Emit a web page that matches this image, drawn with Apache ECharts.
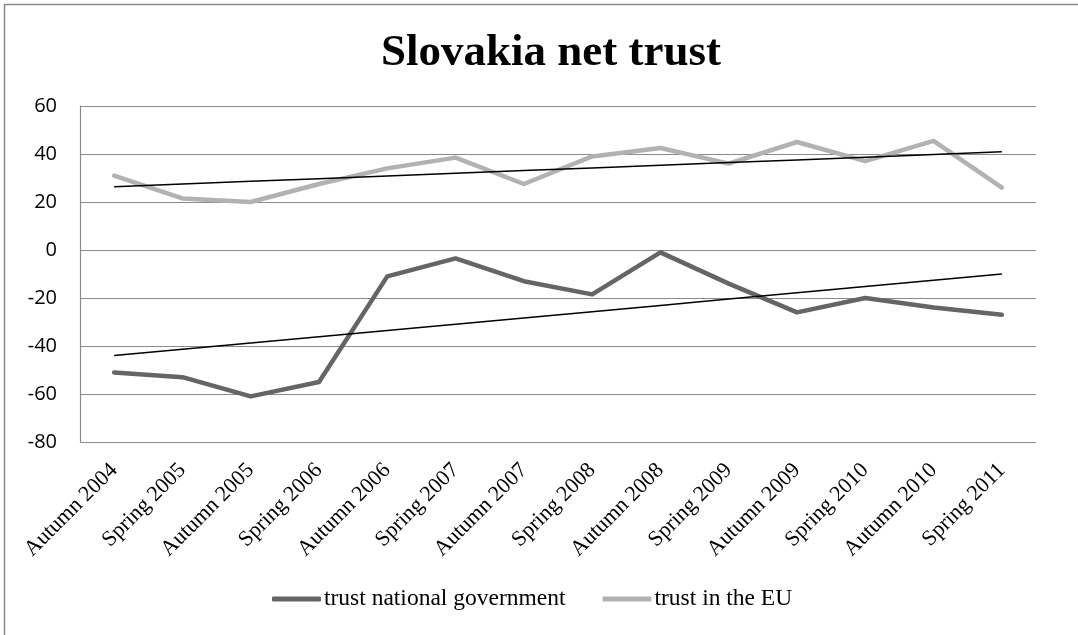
<!DOCTYPE html>
<html>
<head>
<meta charset="utf-8">
<script src="https://cdn.jsdelivr.net/npm/echarts@6/dist/echarts.min.js"></script>
<style>
  html, body { margin: 0; padding: 0; background: #fff; overflow: hidden; }
  #chart { width: 1078px; height: 635px; }
</style>
</head>
<body>
<div id="chart"></div>
<script>
// Survey waves
const categories = [
  'Autumn 2004', 'Spring 2005', 'Autumn 2005', 'Spring 2006', 'Autumn 2006',
  'Spring 2007', 'Autumn 2007', 'Spring 2008', 'Autumn 2008', 'Spring 2009',
  'Autumn 2009', 'Spring 2010', 'Autumn 2010', 'Spring 2011'
];
// Net trust (% trust minus % distrust)
const govTrust = [-51, -53, -61, -55, -11, -3.5, -13, -18.5, -1, -14, -26, -20, -24, -27];
const euTrust = [31, 21.5, 20, 27.5, 34, 38.5, 27.5, 39, 42.5, 36, 45, 37, 45.5, 26];
// Value axis ticks
const yTicks = [-80, -60, -40, -20, 0, 20, 40, 60];

// Least-squares linear trend over the category index
function linearTrend(values) {
  const n = values.length;
  const mx = (n - 1) / 2;
  const my = values.reduce((s, v) => s + v, 0) / n;
  let sxy = 0, sxx = 0;
  values.forEach((v, i) => { sxy += (i - mx) * (v - my); sxx += (i - mx) * (i - mx); });
  const slope = sxy / sxx;
  return values.map((_, i) => my + slope * (i - mx));
}

const chart = echarts.init(document.getElementById('chart'));
const serif = '"Liberation Serif", "Times New Roman", serif';
const govColor = '#656565';
const euColor = '#b2b2b2';

chart.setOption({
  animation: false,
  backgroundColor: '#fff',
  title: {
    text: 'Slovakia net trust',
    left: 546,
    top: 26,
    textAlign: 'center',
    textStyle: { fontFamily: serif, fontWeight: 'bold', fontSize: 45, color: '#000' }
  },
  graphic: [{
    type: 'rect',
    shape: { x: 4.5, y: 4.5, width: 1084, height: 640 },
    style: { fill: 'none', stroke: '#8a8a8a', lineWidth: 1.5 },
    silent: true
  }],
  legend: {
    data: [
      { name: 'trust national government', icon: 'roundRect', itemStyle: { color: govColor } },
      { name: 'trust in the EU', icon: 'roundRect', itemStyle: { color: euColor } }
    ],
    left: 272,
    top: 587,
    padding: 0,
    itemWidth: 49,
    itemHeight: 5,
    itemGap: 37,
    textStyle: { fontFamily: serif, fontSize: 23.5, color: '#000', padding: [0, 0, 0, -2] }
  },
  grid: { left: 80, right: 42, top: 106, bottom: 193, containLabel: false },
  xAxis: {
    type: 'category',
    data: categories,
    boundaryGap: true,
    axisLine: { show: false },
    axisTick: { show: false },
    axisLabel: {
      interval: 0,
      rotate: 45,
      margin: 25,
      fontFamily: serif,
      fontSize: 22,
      color: '#000'
    }
  },
  yAxis: {
    type: 'value',
    min: yTicks[0],
    max: yTicks[yTicks.length - 1],
    interval: 20,
    axisLine: { show: true, lineStyle: { color: '#8a8a8a', width: 1.2 } },
    axisTick: { show: false },
    splitLine: { show: true, lineStyle: { color: '#8a8a8a', width: 1.2 } },
    axisLabel: {
      margin: 23,
      fontFamily: '"Open Sans", sans-serif',
      fontSize: 20,
      color: '#000'
    }
  },
  series: [
    {
      name: 'trust national government',
      type: 'line',
      data: govTrust,
      symbol: 'none',
      color: govColor,
      lineStyle: { color: govColor, width: 4.5, cap: 'round', join: 'round' }
    },
    {
      name: 'trust in the EU',
      type: 'line',
      data: euTrust,
      symbol: 'none',
      color: euColor,
      lineStyle: { color: euColor, width: 4.5, cap: 'round', join: 'round' }
    },
    {
      name: 'trend government',
      type: 'line',
      data: linearTrend(govTrust),
      symbol: 'none',
      lineStyle: { color: '#000', width: 1.5 },
      z: 5
    },
    {
      name: 'trend EU',
      type: 'line',
      data: linearTrend(euTrust),
      symbol: 'none',
      lineStyle: { color: '#000', width: 1.5 },
      z: 5
    }
  ]
});
</script>
</body>
</html>
